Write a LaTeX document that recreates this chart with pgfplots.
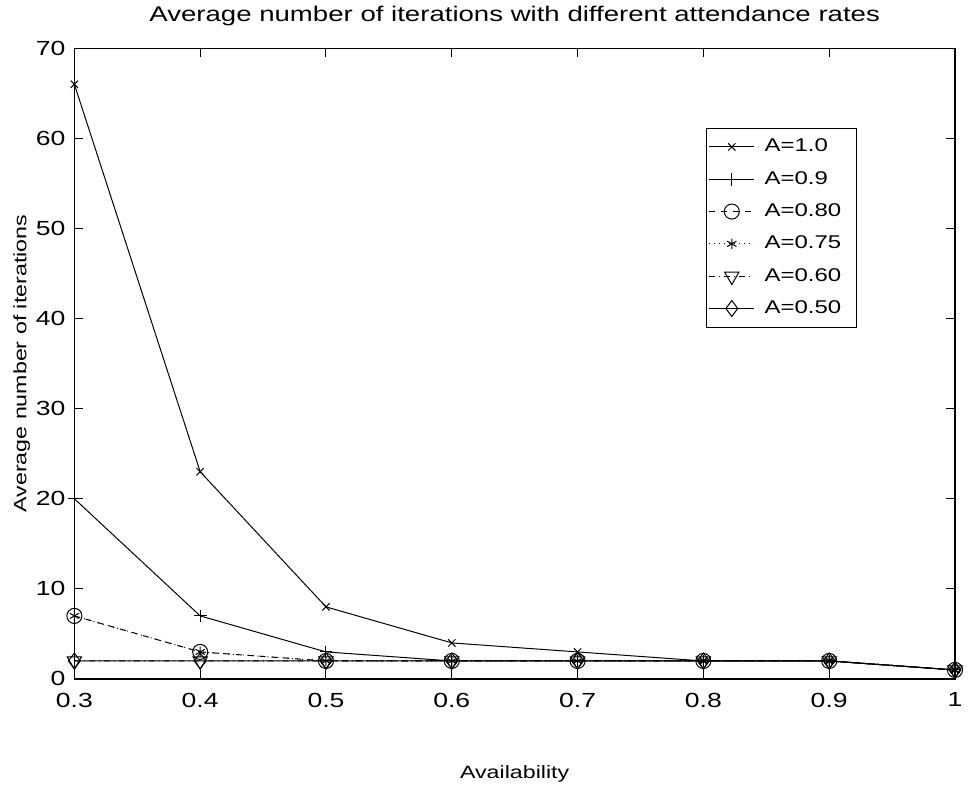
\documentclass[border=0pt]{standalone}
\usepackage{pgfplots}
\pgfplotsset{compat=1.18}
\usepackage{fontspec}
\setmainfont[FakeStretch=1.3]{Liberation Sans}
\newcommand{\legent}[1]{\makebox[46pt][l]{\hspace*{3pt}#1}}
\begin{document}
\begin{tikzpicture}
\begin{axis}[
  name=ax,
  scale only axis,
  width=444pt, height=318pt,
  xmin=0.3, xmax=1, ymin=0, ymax=70,
  xtick={0.3,0.4,0.5,0.6,0.7,0.8,0.9,1},
  xticklabels={0.3,0.4,0.5,0.6,0.7,0.8,0.9,1},
  ytick={0,10,20,30,40,50,60,70},
  tick align=inside,
  major tick length=4.5pt,
  tick style={black, line width=0.5pt},
  axis line style={line width=0.6pt},
  /pgf/number format/assume math mode=true,
  ticklabel style={font=\fontsize{10.3}{12}\selectfont},
  xticklabel style={yshift=-3.5pt},
  yticklabel style={xshift=-1pt},
  title={Average number of iterations with different attendance rates},
  title style={font=\fontsize{10.7}{12}\selectfont, at={(axis description cs:0.5,1)}, anchor=center, yshift=10pt},
  xlabel={Availability},
  ylabel={Average number of iterations},
  label style={font=\fontsize{9}{11}\selectfont},
  xlabel style={at={(axis description cs:0.5,0)}, anchor=center, yshift=-48pt},
  ylabel style={at={(axis description cs:-0.0597,0.5)}, anchor=center},
  legend cell align=left,
  legend style={at={(0.889,0.8742)}, anchor=north east, draw=black, line width=0.5pt,
    font=\fontsize{9.3}{11}\selectfont, row sep=4.3pt, inner xsep=1.5pt, inner ysep=3.5pt},
  legend image code/.code={\draw[mark repeat=2,mark phase=2,#1] plot coordinates {(0pt,0pt)(11.25pt,0pt)(22.5pt,0pt)};},
  legend image post style={line width=0.5pt},
]
\addplot[black, line width=0.5pt, solid, mark=x, mark size=2.6pt, mark options={solid}] coordinates {
  (0.3,66) (0.4,23) (0.5,8) (0.6,4) (0.7,3) (0.8,2) (0.9,2) (1.0,1)};
\addlegendentry{\legent{A=1.0}}
\addplot[black, line width=0.5pt, solid, mark=+, mark size=3.2pt, mark options={solid}] coordinates {
  (0.3,20) (0.4,7) (0.5,3) (0.6,2) (0.7,2) (0.8,2) (0.9,2) (1.0,1)};
\addlegendentry{\legent{A=0.9}}
\addplot[black, line width=0.5pt, dashed, mark=o, mark size=3.8pt, mark options={solid}] coordinates {
  (0.3,7) (0.4,3) (0.5,2) (0.6,2) (0.7,2) (0.8,2) (0.9,2) (1.0,1)};
\addlegendentry{\legent{A=0.80}}
\addplot[black, line width=0.5pt, dotted, mark=asterisk, mark size=2.7pt, mark options={solid}] coordinates {
  (0.3,7) (0.4,3) (0.5,2) (0.6,2) (0.7,2) (0.8,2) (0.9,2) (1.0,1)};
\addlegendentry{\legent{A=0.75}}
\addplot[black, line width=0.5pt, dashdotted, mark=triangle, mark size=4.2pt, mark options={solid, rotate=180}] coordinates {
  (0.3,2) (0.4,2) (0.5,2) (0.6,2) (0.7,2) (0.8,2) (0.9,2) (1.0,1)};
\addlegendentry{\legent{A=0.60}}
\addplot[black, line width=0.5pt, solid, mark=diamond, mark size=4pt, mark options={solid}] coordinates {
  (0.3,2) (0.4,2) (0.5,2) (0.6,2) (0.7,2) (0.8,2) (0.9,2) (1.0,1)};
\addlegendentry{\legent{A=0.50}}
\end{axis}
\path ([xshift=-37.5pt,yshift=-65.5pt]ax.south west) ([xshift=3pt,yshift=23.5pt]ax.north east);
\end{tikzpicture}
\end{document}
